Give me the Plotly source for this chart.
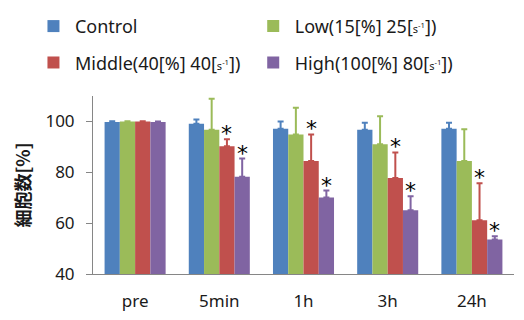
import plotly.graph_objects as go

categories = ["pre", "5min", "1h", "3h", "24h"]
series_names = [
    "Control",
    "Low(15[%] 25[<span style='font-size:11px'>s<sup>-1</sup></span>])",
    "Middle(40[%] 40[<span style='font-size:11px'>s<sup>-1</sup></span>])",
    "High(100[%] 80[<span style='font-size:11px'>s<sup>-1</sup></span>])",
]
control = [99.8, 99.1, 97.1, 96.7, 97.1]
low = [100.0, 96.7, 94.9, 91.0, 84.4]
middle = [100.0, 90.2, 84.4, 77.8, 61.1]
high = [99.8, 78.2, 70.1, 65.1, 53.6]
control_err = [0.3, 1.7, 2.9, 2.8, 2.4]
low_err = [0.1, 12.2, 10.5, 11.0, 12.5]
middle_err = [0.1, 2.8, 10.5, 10.0, 14.6]
high_err = [0.2, 7.2, 2.7, 5.5, 1.2]
significant_middle = [False, True, True, True, True]
significant_high = [False, True, True, True, True]

colors = ["#4F81BD", "#9BBB59", "#C0504D", "#8064A2"]
values = [control, low, middle, high]
errors = [control_err, low_err, middle_err, high_err]
legends = ["legend", "legend2", "legend", "legend2"]

# page has an 8px body margin, so the figure is sized to fit the window
W, H = 516, 312
ML, MR, MT, MB = 85, 10, 88, 46
BARGAP = 0.275

fig = go.Figure()
for i in range(4):
    fig.add_trace(go.Bar(
        x=categories, y=values[i], name=series_names[i],
        marker=dict(color=colors[i], line=dict(width=0)),
        error_y=dict(type="data", array=errors[i], symmetric=False,
                     arrayminus=[0]*len(categories),
                     color=colors[i], thickness=2, width=3),
        legend=legends[i], legendgroup=f"g{i}",
    ))

# asterisk annotations
plot_w = W - ML - MR
cat_w = plot_w / len(categories)
bar_w = cat_w * (1 - BARGAP) / 4
for series_idx, flags in [(2, significant_middle), (3, significant_high)]:
    offset = (series_idx - 1.5) * bar_w
    for j, flag in enumerate(flags):
        if flag:
            fig.add_annotation(
                x=categories[j], y=values[series_idx][j] + errors[series_idx][j],
                text="*", showarrow=False, xanchor="center", yanchor="bottom",
                xshift=offset, yshift=-9,
                font=dict(size=22, color="#000000", family="DejaVu Sans"),
            )

fig.update_layout(
    width=W, height=H,
    margin=dict(l=ML, r=MR, t=MT, b=MB, autoexpand=False),
    paper_bgcolor="white", plot_bgcolor="white",
    barmode="group", bargap=BARGAP, bargroupgap=0,
    font=dict(family="Noto Sans, sans-serif", size=17, color="#1a1a1a"),
    legend=dict(x=-0.145, y=1.495, xanchor="left", yanchor="top",
                traceorder="grouped", tracegroupgap=10,
                font=dict(size=18), itemwidth=33, bgcolor="rgba(0,0,0,0)"),
    legend2=dict(x=0.377, y=1.495, xanchor="left", yanchor="top",
                 traceorder="grouped", tracegroupgap=10,
                 font=dict(size=18), itemwidth=33, bgcolor="rgba(0,0,0,0)"),
    xaxis=dict(showline=True, linecolor="#868686", linewidth=1,
               ticks="", tickfont=dict(size=17), showgrid=False,
               automargin=False, ticklabelstandoff=12),
    yaxis=dict(range=[40, 110], tickvals=[40, 60, 80, 100],
               showline=True, linecolor="#868686", linewidth=1,
               ticks="outside", ticklen=6, tickcolor="#868686",
               showgrid=False, zeroline=False, tickfont=dict(size=17),
               automargin=False, ticklabelstandoff=8,
               title=dict(text="<b>細胞数[%]</b>", standoff=10,
                          font=dict(size=18, family="Noto Sans CJK JP"))),
)

fig.write_html("out.html")
